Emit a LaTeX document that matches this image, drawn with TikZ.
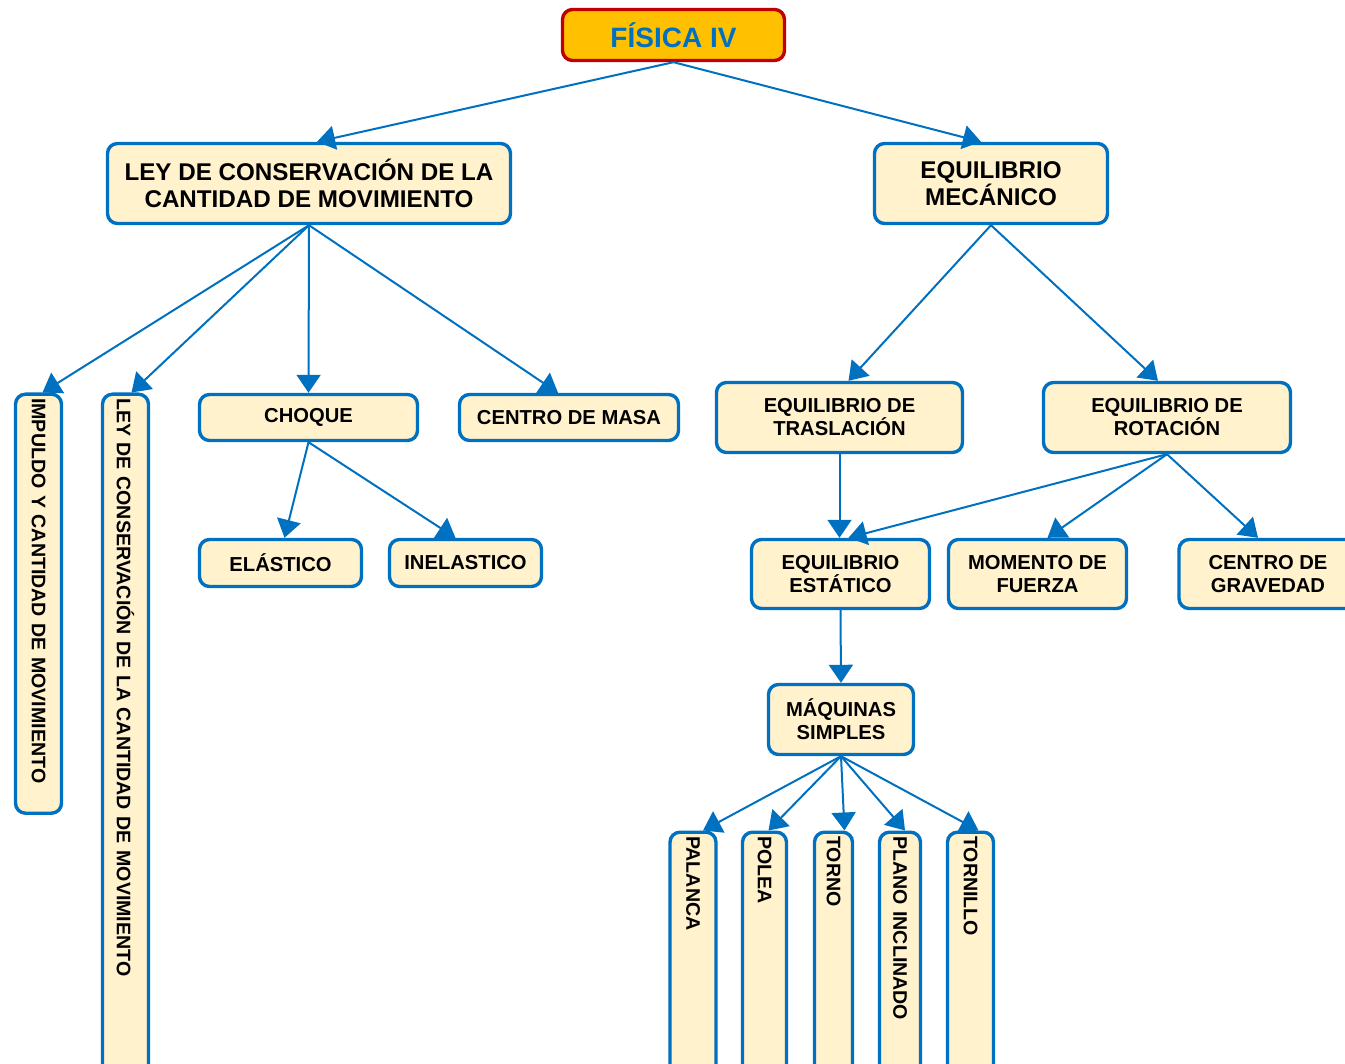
\documentclass[tikz,border=0pt]{standalone}
\usepackage{fontspec}
\setmainfont{Liberation Sans}
\usetikzlibrary{arrows.meta}
\definecolor{azul}{HTML}{0070C0}
\definecolor{crema}{HTML}{FFF2CC}
\definecolor{oro}{HTML}{FFC000}
\definecolor{rojo}{HTML}{C00000}
\newcommand*{\letraT}{\fontsize{28}{32}\selectfont}
\newcommand*{\letraG}{\fontsize{24.2}{27}\selectfont}
\newcommand*{\letraN}{\fontsize{20.2}{23}\selectfont}
\newcommand*{\letraV}{\fontsize{19.6}{23}\selectfont}
\newcommand*{\fila  }{417.5}
\newcommand*{\filb  }{574}

\begin{document}
\begin{tikzpicture}[x=1pt, y=-1pt, font=\bfseries\letraN,
    caja/.style  = {draw=azul, fill=crema, line width=3.4pt, rounded corners=10pt, align=center, inner sep=0pt},
    vcaja/.style = {caja, rotate=-90, anchor=west, text width=#1, align=left, inner xsep=4pt, font=\bfseries\letraV},
    flecha/.style= {draw=azul, line width=2pt, -{Triangle[width=24pt,length=18pt]}}]
    \clip (0,0) rectangle (1345,1064);
        % niveles de arriba
        \node [caja, draw=rojo, fill=oro, text=azul, font=\bfseries\letraT, minimum width=222, minimum height=51] (fisica) at (673.5,35) {FÍSICA IV};
        \node [caja, font=\bfseries\letraG, minimum width=403, minimum height=80] (ley) at (309,183.5) {LEY DE CONSERVACIÓN DE LA\\CANTIDAD DE MOVIMIENTO};
        \node [caja, font=\bfseries\letraG, minimum width=233, minimum height=80] (mecanico) at (991,183.5) {EQUILIBRIO\\MECÁNICO};
        % rama izquierda
        \node [vcaja=411, minimum height=46] (impulso) at (38.5,392.5) {IMPULDO Y CANTIDAD DE MOVIMIENTO};
        \node [vcaja=690, minimum height=46] (leyvert) at (125.5,392.5) {LEY DE CONSERVACIÓN DE LA CANTIDAD DE MOVIMIENTO};
        \node [caja, minimum width=218, minimum height=46] (choque) at (308.5,\fila) {CHOQUE};
        \node [caja, minimum width=219, minimum height=46] (masa) at (569,\fila) {CENTRO DE MASA};
        \node [caja, minimum width=162, minimum height=47] (elastico) at (280.5,563) {ELÁSTICO};
        \node [caja, minimum width=152, minimum height=47] (inelastico) at (465.5,563) {INELASTICO};
        % rama derecha
        \node [caja, minimum width=246, minimum height=70] (traslacion) at (839.5,\fila) {EQUILIBRIO DE\\TRASLACIÓN};
        \node [caja, minimum width=247, minimum height=70] (rotacion) at (1167,\fila) {EQUILIBRIO DE\\ROTACIÓN};
        \node [caja, minimum width=178, minimum height=69] (estatico) at (840.5,\filb) {EQUILIBRIO\\ESTÁTICO};
        \node [caja, minimum width=178, minimum height=69] (momento) at (1037.5,\filb) {MOMENTO DE\\FUERZA};
        \node [caja, minimum width=178, minimum height=69] (gravedad) at (1268,\filb) {CENTRO DE\\GRAVEDAD};
        \node [caja, minimum width=145, minimum height=70] (maquinas) at (841,719.5) {MÁQUINAS\\SIMPLES};
        \node [vcaja=260, minimum height=46] (palanca) at (693,830.5) {PALANCA};
        \node [vcaja=260, minimum height=44] (polea) at (764.5,830.5) {POLEA};
        \node [vcaja=260, minimum height=38] (torno) at (833.5,830.5) {TORNO};
        \node [vcaja=260, minimum height=41] (plano) at (900,830.5) {PLANO INCLINADO};
        \node [vcaja=260, minimum height=46] (tornillo) at (970.5,830.5) {TORNILLO};
        % flechas
        \draw [flecha] (fisica.south) -- ([xshift=8]ley.north);
        \draw [flecha] (fisica.south) -- ([xshift=-10]mecanico.north);
        \draw [flecha] (ley.south) -- ([xshift=4]impulso.west);
        \draw [flecha] (ley.south) -- ([xshift=6]leyvert.west);
        \draw [flecha] (ley.south) -- (choque.north);
        \draw [flecha] (ley.south) -- ([xshift=-11]masa.north);
        \draw [flecha] (choque.south) -- ([xshift=4]elastico.north);
        \draw [flecha] (choque.south) -- ([xshift=-10]inelastico.north);
        \draw [flecha] (mecanico.south) -- ([xshift=9]traslacion.north);
        \draw [flecha] (mecanico.south) -- ([xshift=-9]rotacion.north);
        \draw [flecha] (traslacion.south) -- ([xshift=-1]estatico.north);
        \draw [flecha] (rotacion.south) -- ([xshift=8]estatico.north);
        \draw [flecha] (rotacion.south) -- ([xshift=10]momento.north);
        \draw [flecha] (rotacion.south) -- ([xshift=-10]gravedad.north);
        \draw [flecha] (estatico.south) -- (maquinas.north);
        \draw [flecha] (maquinas.south) -- ([xshift=10]palanca.west);
        \draw [flecha] (maquinas.south) -- ([xshift=4]polea.west);
        \draw [flecha] (maquinas.south) -- ([xshift=11]torno.west);
        \draw [flecha] (maquinas.south) -- ([xshift=5]plano.west);
        \draw [flecha] (maquinas.south) -- ([xshift=8]tornillo.west);
    \end{tikzpicture}
\end{document}
